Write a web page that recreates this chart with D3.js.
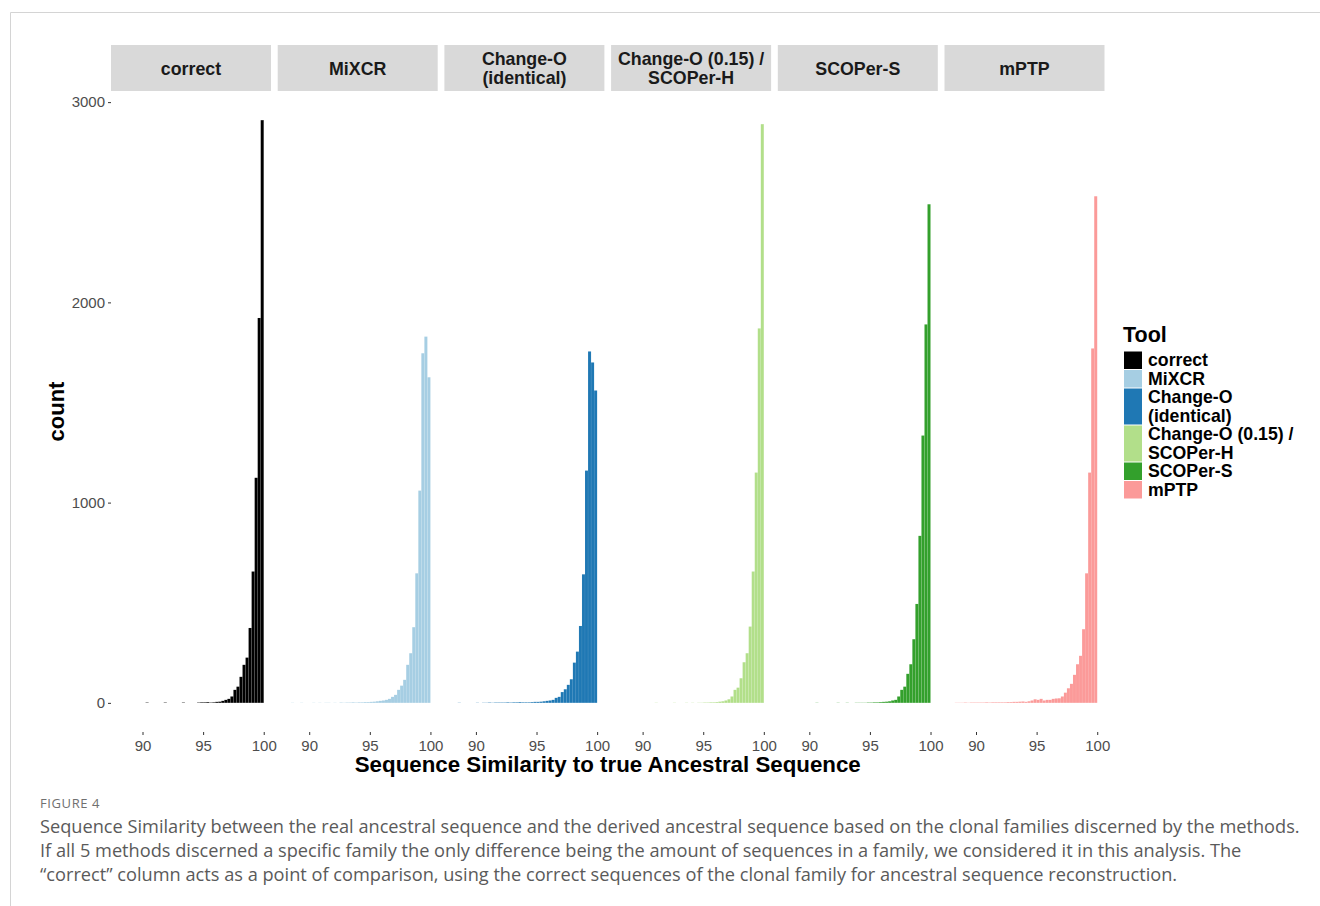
<!DOCTYPE html>
<html>
<head>
<meta charset="utf-8">
<script src="https://cdn.jsdelivr.net/npm/d3@7"></script>
<style>
  body { margin: 0; background: #fff; }
  svg text { font-family: "Liberation Sans", Arial, sans-serif; }
  .caption { font-family: "Open Sans", "Noto Sans", sans-serif; }
</style>
</head>
<body>
<div id="chart"></div>
<script>
// data: histogram counts per 0.25-wide bin
var tools = ["correct", "MiXCR", "Change-O (identical)", "Change-O (0.15) / SCOPer-H", "SCOPer-S", "mPTP"];
var stripLabels = [["correct"], ["MiXCR"], ["Change-O", "(identical)"], ["Change-O (0.15) /", "SCOPer-H"], ["SCOPer-S"], ["mPTP"]];
var legendLabels = [["correct"], ["MiXCR"], ["Change-O", "(identical)"], ["Change-O (0.15) /", "SCOPer-H"], ["SCOPer-S"], ["mPTP"]];
var colors = ["#000000", "#a6cee3", "#1f78b4", "#b2df8a", "#33a02c", "#fb9a99"];

var binWidth = 0.25;
var binStarts = [88, 88.25, 88.5, 88.75, 89, 89.25, 89.5, 89.75,
  90, 90.25, 90.5, 90.75, 91, 91.25, 91.5, 91.75,
  92, 92.25, 92.5, 92.75, 93, 93.25, 93.5, 93.75,
  94, 94.25, 94.5, 94.75, 95, 95.25, 95.5, 95.75,
  96, 96.25, 96.5, 96.75, 97, 97.25, 97.5, 97.75,
  98, 98.25, 98.5, 98.75, 99, 99.25, 99.5, 99.75];

var correctCounts = [0, 0, 0, 0, 0, 0, 0, 0,
  0, 2, 0, 0, 0, 0, 0, 2,
  0, 0, 0, 0, 0, 2, 0, 0,
  0, 0, 2, 3, 3, 4, 2, 3,
  5, 6, 10, 15, 20, 32, 65, 81,
  130, 190, 226, 374, 656, 1124, 1922, 2910];
var mixcrCounts = [0, 0, 1, 0, 0, 1, 0, 0,
  0, 1, 0, 1, 0, 1, 1, 0,
  1, 0, 2, 1, 2, 2, 3, 2,
  3, 3, 4, 4, 5, 6, 8, 10,
  12, 15, 20, 30, 40, 65, 86, 115,
  190, 248, 378, 647, 1060, 1746, 1829, 1626];
var changeoCounts = [0, 0, 1, 0, 0, 0, 0, 0,
  1, 0, 1, 1, 2, 1, 2, 2,
  2, 2, 3, 2, 3, 3, 4, 3,
  3, 3, 4, 5, 5, 6, 8, 10,
  12, 15, 25, 30, 54, 68, 90, 118,
  201, 256, 384, 642, 1160, 1755, 1700, 1560];
var changeo15Counts = [0, 0, 0, 0, 0, 0, 0, 0,
  0, 0, 0, 0, 1, 0, 0, 0,
  0, 0, 1, 0, 0, 0, 1, 0,
  1, 0, 1, 1, 2, 2, 3, 3,
  4, 6, 8, 12, 18, 32, 65, 76,
  123, 203, 248, 381, 656, 1150, 1870, 2890];
var scoperSCounts = [0, 0, 0, 0, 0, 0, 0, 0,
  0, 0, 1, 0, 0, 0, 0, 0,
  0, 1, 0, 0, 1, 0, 0, 1,
  1, 1, 1, 2, 2, 3, 3, 4,
  5, 6, 8, 12, 15, 32, 65, 81,
  145, 193, 318, 494, 834, 1335, 1890, 2490];
var mptpCounts = [0, 1, 1, 1, 2, 1, 2, 2,
  2, 2, 2, 3, 2, 3, 3, 3,
  3, 3, 4, 4, 5, 5, 6, 7,
  5, 8, 12, 18, 15, 20, 12, 15,
  15, 20, 22, 23, 32, 51, 73, 95,
  140, 193, 235, 368, 647, 1150, 1770, 2530];
var countsByTool = [correctCounts, mixcrCounts, changeoCounts, changeo15Counts, scoperSCounts, mptpCounts];

var xTicks = [90, 95, 100];
var yTicks = [0, 1000, 2000, 3000];

var captionLabel = "FIGURE 4";
var captionLines = [
  "Sequence Similarity between the real ancestral sequence and the derived ancestral sequence based on the clonal families discerned by the methods.",
  "If all 5 methods discerned a specific family the only difference being the amount of sequences in a family, we considered it in this analysis. The",
  "\u201Ccorrect\u201D column acts as a point of comparison, using the correct sequences of the clonal family for ancestral sequence reconstruction."
];

// layout
var width = 1320, height = 906;
var plotLeft = 111, panelW = 160, panelGap = 6.7;
var stripTop = 45, stripBottom = 91, panelBottom = 732;

var svg = d3.select("#chart").append("svg")
  .attr("width", width)
  .attr("height", height);

// figure frame
svg.append("path")
  .attr("d", "M10.5,906 V12.5 H1320")
  .attr("fill", "none")
  .attr("stroke", "#d4d4d4")
  .attr("stroke-width", 1);

var maxCount = d3.max(countsByTool, c => d3.max(c));
var yScale = d3.scaleLinear()
  .domain([-0.05 * maxCount, 1.05 * maxCount])
  .range([panelBottom, stripBottom]);

var xMin = binStarts[0], xMax = binStarts[binStarts.length - 1] + binWidth;
var xPad = 0.05 * (xMax - xMin);

tools.forEach(function(tool, i) {
  var left = plotLeft + i * (panelW + panelGap);
  var xScale = d3.scaleLinear()
    .domain([xMin - xPad, xMax + xPad])
    .range([left, left + panelW]);

  var g = svg.append("g").attr("class", "panel");

  // strip
  g.append("rect")
    .attr("x", left)
    .attr("y", stripTop)
    .attr("width", panelW)
    .attr("height", stripBottom - stripTop)
    .attr("fill", "#d9d9d9");

  var lines = stripLabels[i];
  var mid = (stripTop + stripBottom) / 2;
  lines.forEach(function(l, j) {
    g.append("text")
      .attr("x", left + panelW / 2)
      .attr("y", mid + 6.5 + (j - (lines.length - 1) / 2) * 19)
      .attr("text-anchor", "middle")
      .attr("font-size", "17.8px")
      .attr("font-weight", "bold")
      .attr("fill", "#1a1a1a")
      .text(l);
  });

  // bars
  var rows = binStarts.map((b, k) => ({ x0: b, x1: b + binWidth, n: countsByTool[i][k] }));
  g.selectAll("rect.bar")
    .data(rows)
    .enter()
    .append("rect")
    .attr("class", "bar")
    .attr("x", d => xScale(d.x0))
    .attr("width", d => xScale(d.x1) - xScale(d.x0))
    .attr("y", d => yScale(d.n))
    .attr("height", d => yScale(0) - yScale(d.n))
    .attr("fill", colors[i])
    .attr("stroke", "#ffffff")
    .attr("stroke-opacity", 0.2)
    .attr("stroke-width", 0.3);

  // x axis
  var xAxis = d3.axisBottom(xScale).tickValues(xTicks).tickSize(3).tickPadding(5);
  var ax = g.append("g")
    .attr("transform", `translate(0, ${panelBottom})`)
    .call(xAxis);
  ax.select(".domain").remove();
  ax.selectAll("line").attr("stroke", "#333");
  ax.selectAll("text")
    .attr("font-size", "15px")
    .attr("fill", "#4d4d4d")
    .attr("font-family", "Liberation Sans, Arial, sans-serif");
});

// y axis
var yAxis = d3.axisLeft(yScale).tickValues(yTicks).tickFormat(d3.format("d")).tickSize(3).tickPadding(3);
var ay = svg.append("g")
  .attr("transform", `translate(${plotLeft}, 0)`)
  .call(yAxis);
ay.select(".domain").remove();
ay.selectAll("line").attr("stroke", "#333");
ay.selectAll("text")
  .attr("font-size", "15px")
  .attr("fill", "#4d4d4d")
  .attr("font-family", "Liberation Sans, Arial, sans-serif");

// axis titles
svg.append("text")
  .attr("transform", `translate(64, ${(stripBottom + panelBottom) / 2}) rotate(-90)`)
  .attr("text-anchor", "middle")
  .attr("font-size", "22px")
  .attr("font-weight", "bold")
  .text("count");

svg.append("text")
  .attr("x", plotLeft + (6 * panelW + 5 * panelGap) / 2)
  .attr("y", 772)
  .attr("text-anchor", "middle")
  .attr("font-size", "22.3px")
  .attr("font-weight", "bold")
  .text("Sequence Similarity to true Ancestral Sequence");

// legend
var legend = svg.append("g").attr("transform", "translate(1123, 0)");
legend.append("text")
  .attr("x", 0)
  .attr("y", 342)
  .attr("font-size", "21.5px")
  .attr("font-weight", "bold")
  .text("Tool");

var rowH = 18.5;
var ky = 351;
legendLabels.forEach(function(lines, i) {
  var h = rowH * lines.length;
  legend.append("rect")
    .attr("x", 1)
    .attr("y", ky + 0.5)
    .attr("width", 18)
    .attr("height", h - 1)
    .attr("fill", colors[i]);
  lines.forEach(function(l, j) {
    legend.append("text")
      .attr("x", 25)
      .attr("y", ky + 15 + j * rowH)
      .attr("font-size", "17.7px")
      .attr("font-weight", "bold")
      .text(l);
  });
  ky += h;
});

// caption
svg.append("text")
  .attr("class", "caption")
  .attr("x", 40)
  .attr("y", 808)
  .attr("font-size", "13px")
  .attr("letter-spacing", "0.6px")
  .attr("fill", "#707070")
  .text(captionLabel);

captionLines.forEach(function(l, i) {
  svg.append("text")
    .attr("class", "caption")
    .attr("x", 40)
    .attr("y", 833 + i * 24)
    .attr("font-size", "18.2px")
    .attr("fill", "#5a5a5a")
    .text(l);
});
</script>
</body>
</html>
